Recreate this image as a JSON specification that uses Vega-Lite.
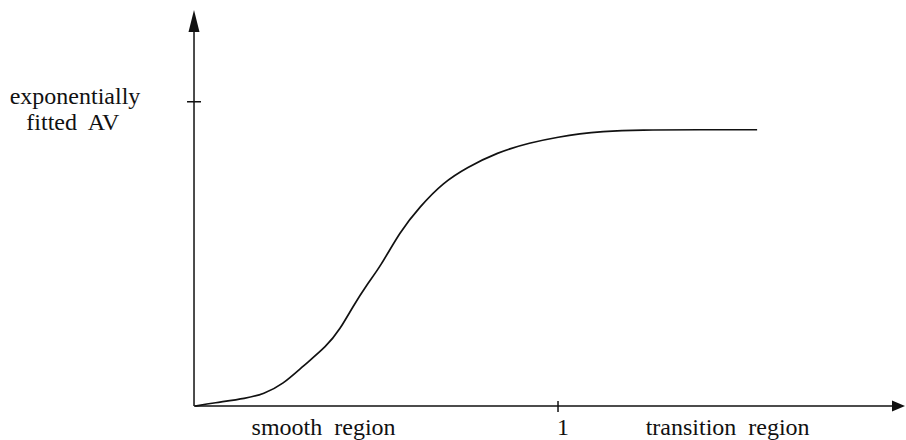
{
  "$schema": "https://vega.github.io/schema/vega-lite/v6.json",
  "width": 906,
  "height": 440,
  "padding": 0,
  "autosize": {"type": "fit", "contains": "padding"},
  "background": "white",
  "config": {"view": {"stroke": null}, "font": "Liberation Serif"},
  "datasets": {
    "curve": [
      {"x": 0.003, "y": 0.0},
      {"x": 0.052, "y": 0.010},
      {"x": 0.146, "y": 0.026},
      {"x": 0.190, "y": 0.039},
      {"x": 0.245, "y": 0.072},
      {"x": 0.299, "y": 0.131},
      {"x": 0.365, "y": 0.197},
      {"x": 0.401, "y": 0.252},
      {"x": 0.437, "y": 0.328},
      {"x": 0.475, "y": 0.400},
      {"x": 0.511, "y": 0.456},
      {"x": 0.566, "y": 0.574},
      {"x": 0.621, "y": 0.656},
      {"x": 0.684, "y": 0.734},
      {"x": 0.750, "y": 0.784},
      {"x": 0.832, "y": 0.833},
      {"x": 0.923, "y": 0.866},
      {"x": 1.005, "y": 0.885},
      {"x": 1.060, "y": 0.895},
      {"x": 1.115, "y": 0.902},
      {"x": 1.225, "y": 0.908},
      {"x": 1.390, "y": 0.908},
      {"x": 1.547, "y": 0.908}
    ],
    "segments": [
      {"part": "y axis", "x": 0, "x2": 0, "y": 0, "y2": 1.235},
      {"part": "x axis", "x": 0, "x2": 1.925, "y": 0, "y2": 0},
      {"part": "y tick", "x": -0.0192, "x2": 0.0192, "y": 1, "y2": 1},
      {"part": "x tick", "x": 1, "x2": 1, "y": 0.0164, "y2": -0.0197}
    ],
    "arrowsUp": [{"x": 0, "y": 1.2656}],
    "arrowsRight": [{"x": 1.9354, "y": 0}],
    "labels": [
      {"text": "exponentially", "x": -0.327, "y": 1.016},
      {"text": "fitted\u00a0 AV", "x": -0.333, "y": 0.930},
      {"text": "smooth\u00a0 region", "x": 0.356, "y": -0.071},
      {"text": "1", "x": 1.014, "y": -0.071},
      {"text": "transition\u00a0 region", "x": 1.466, "y": -0.071}
    ]
  },
  "layer": [
    {
      "data": {"name": "segments"},
      "mark": {"type": "rule", "color": "#111111", "strokeWidth": 1.5},
      "encoding": {
        "x": {"field": "x", "type": "quantitative", "scale": {"domain": [-0.533, 1.956], "nice": false, "zero": false}, "axis": null},
        "x2": {"field": "x2"},
        "y": {"field": "y", "type": "quantitative", "scale": {"domain": [-0.1082, 1.3344], "nice": false, "zero": false}, "axis": null},
        "y2": {"field": "y2"}
      }
    },
    {
      "data": {"name": "curve"},
      "mark": {"type": "line", "color": "#111111", "strokeWidth": 1.7, "interpolate": "basis"},
      "encoding": {
        "x": {"field": "x", "type": "quantitative", "scale": {"domain": [-0.533, 1.956], "nice": false, "zero": false}, "axis": null},
        "y": {"field": "y", "type": "quantitative", "scale": {"domain": [-0.1082, 1.3344], "nice": false, "zero": false}, "axis": null}
      }
    },
    {
      "data": {"name": "arrowsUp"},
      "mark": {"type": "point", "shape": "M0,-1L0.5,1L-0.5,1Z", "filled": true, "color": "#111111", "size": 484, "opacity": 1},
      "encoding": {
        "x": {"field": "x", "type": "quantitative", "scale": {"domain": [-0.533, 1.956], "nice": false, "zero": false}, "axis": null},
        "y": {"field": "y", "type": "quantitative", "scale": {"domain": [-0.1082, 1.3344], "nice": false, "zero": false}, "axis": null}
      }
    },
    {
      "data": {"name": "arrowsRight"},
      "mark": {"type": "point", "shape": "M1,0L-1,0.85L-1,-0.85Z", "filled": true, "color": "#111111", "size": 169, "opacity": 1},
      "encoding": {
        "x": {"field": "x", "type": "quantitative", "scale": {"domain": [-0.533, 1.956], "nice": false, "zero": false}, "axis": null},
        "y": {"field": "y", "type": "quantitative", "scale": {"domain": [-0.1082, 1.3344], "nice": false, "zero": false}, "axis": null}
      }
    },
    {
      "data": {"name": "labels"},
      "mark": {"type": "text", "font": "Liberation Serif", "fontSize": 24, "color": "#111111", "align": "center", "baseline": "middle"},
      "encoding": {
        "x": {"field": "x", "type": "quantitative", "scale": {"domain": [-0.533, 1.956], "nice": false, "zero": false}, "axis": null},
        "y": {"field": "y", "type": "quantitative", "scale": {"domain": [-0.1082, 1.3344], "nice": false, "zero": false}, "axis": null},
        "text": {"field": "text", "type": "nominal"}
      }
    }
  ]
}
